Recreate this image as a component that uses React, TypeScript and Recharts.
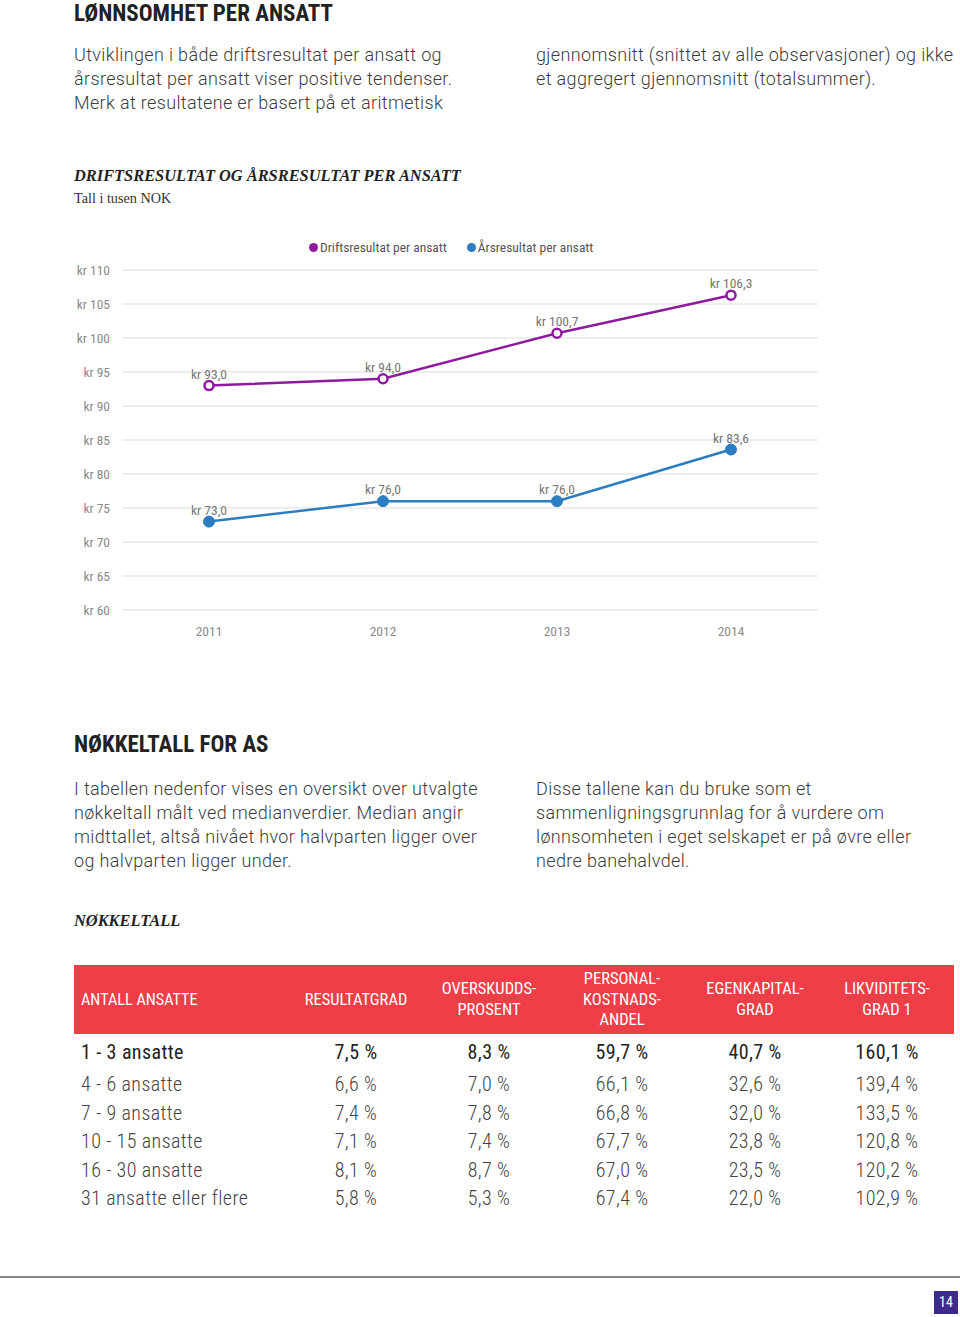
import { LineChart, Line, XAxis, YAxis, CartesianGrid, Legend, LabelList } from 'recharts'

// Driftsresultat og årsresultat per ansatt (tall i tusen NOK)
const years = ['2011', '2012', '2013', '2014']
const driftsresultat = [93.0, 94.0, 100.7, 106.3]
const arsresultat = [73.0, 76.0, 76.0, 83.6]
const yTicks = [60, 65, 70, 75, 80, 85, 90, 95, 100, 105, 110]

// Nøkkeltall
const sizeGroups = ['1 - 3 ansatte', '4 - 6 ansatte', '7 - 9 ansatte', '10 - 15 ansatte', '16 - 30 ansatte', '31 ansatte eller flere']
const resultatgrad = [7.5, 6.6, 7.4, 7.1, 8.1, 5.8]
const overskuddsprosent = [8.3, 7.0, 7.8, 7.4, 8.7, 5.3]
const personalkostnadsandel = [59.7, 66.1, 66.8, 67.7, 67.0, 67.4]
const egenkapitalgrad = [40.7, 32.6, 32.0, 23.8, 23.5, 22.0]
const likviditetsgrad = [160.1, 139.4, 133.5, 120.8, 120.2, 102.9]
const headers = ['RESULTATGRAD', 'OVERSKUDDS-\nPROSENT', 'PERSONAL-\nKOSTNADS-\nANDEL', 'EGENKAPITAL-\nGRAD', 'LIKVIDITETS-\nGRAD 1']

const PURPLE = '#8E1B9E'
const BLUE = '#2B7CC0'
const COND = "'Liberation Sans Narrow', 'Roboto Condensed', 'DejaVu Sans Condensed', 'DejaVu Sans', sans-serif"
const BODY = "Roboto, 'Noto Sans', sans-serif"
const SERIF = "'Liberation Serif', 'DejaVu Serif', serif"

const chartData = years.map((year, i) => ({
  year,
  drift: driftsresultat[i],
  ars: arsresultat[i],
}))

const kr = (v: number) => `kr ${v.toFixed(1).replace('.', ',')}`
const pct = (v: number) => `${v.toFixed(1).replace('.', ',')} %`

function ChartLegend() {
  const items = [
    { label: 'Driftsresultat per ansatt', color: PURPLE },
    { label: 'Årsresultat per ansatt', color: BLUE },
  ]
  return (
    <div style={{ display: 'flex', paddingLeft: 249, height: 32, alignItems: 'flex-start', fontFamily: COND, fontSize: 13.5, color: '#555' }}>
      {items.map((it) => (
        <div key={it.label} style={{ display: 'flex', alignItems: 'center', marginRight: 20, lineHeight: '18px' }}>
          <span style={{ width: 9, height: 9, borderRadius: '50%', background: it.color, marginRight: 2, display: 'inline-block' }} />
          {it.label}
        </div>
      ))}
    </div>
  )
}

export default function App() {
  const text = { position: 'absolute' as const, fontFamily: BODY, fontWeight: 300, fontSize: 18, letterSpacing: 0.35, lineHeight: '24px', color: '#3c3c3c' }
  const colCenters = [356, 489, 622, 755, 887]
  const columns = [resultatgrad, overskuddsprosent, personalkostnadsandel, egenkapitalgrad, likviditetsgrad]
  const rowCenter = (i: number) => (i === 0 ? 1052 : 1084 + (i - 1) * 28.6)

  return (
    <div style={{ position: 'absolute', left: 0, top: 0, width: 960, height: 1317, background: '#fff', overflow: 'hidden' }}>
      <div style={{ position: 'absolute', left: 74, top: 0, fontFamily: COND, fontWeight: 700, fontSize: 23, color: '#222' }}>
        LØNNSOMHET PER ANSATT
      </div>
      <div style={{ ...text, left: 74, top: 43 }}>
        Utviklingen i både driftsresultat per ansatt og<br />
        årsresultat per ansatt viser positive tendenser.<br />
        Merk at resultatene er basert på et aritmetisk
      </div>
      <div style={{ ...text, left: 536, top: 43 }}>
        gjennomsnitt (snittet av alle observasjoner) og ikke<br />
        et aggregert gjennomsnitt (totalsummer).
      </div>

      <div style={{ position: 'absolute', left: 74, top: 166, fontFamily: SERIF, fontWeight: 700, fontStyle: 'italic', fontSize: 16.4, color: '#222' }}>
        DRIFTSRESULTAT OG ÅRSRESULTAT PER ANSATT
      </div>
      <div style={{ position: 'absolute', left: 74, top: 190, fontFamily: SERIF, fontSize: 14.2, color: '#333' }}>
        Tall i tusen NOK
      </div>

      <div style={{ position: 'absolute', left: 60, top: 230 }}>
        <LineChart width={760} height={420} data={chartData} margin={{ top: 8, right: 2, left: 0, bottom: 10 }}>
          <CartesianGrid vertical={false} stroke="#e9e9e9" strokeWidth={1.5} />
          <XAxis
            dataKey="year"
            axisLine={false}
            tickLine={false}
            padding={{ left: 87, right: 87 }}
            tickMargin={10}
            height={30}
            tick={{ fill: '#8a8a8a', fontSize: 13.5, fontFamily: COND }}
          />
          <YAxis
            domain={[60, 110]}
            ticks={yTicks}
            axisLine={false}
            tickLine={false}
            width={62}
            tickMargin={6}
            tickFormatter={(v: number) => `kr ${v}`}
            tick={{ fill: '#8a8a8a', fontSize: 13.5, fontFamily: COND }}
          />
          <Legend verticalAlign="top" height={32} content={() => <ChartLegend />} />
          <Line
            dataKey="drift"
            name="Driftsresultat per ansatt"
            stroke={PURPLE}
            strokeWidth={2.5}
            dot={{ r: 4.5, stroke: PURPLE, strokeWidth: 2.5, fill: '#fff' }}
            isAnimationActive={false}
          >
            <LabelList dataKey="drift" position="top" offset={7} formatter={(v: number) => kr(v)} style={{ fill: '#777', fontSize: 13.5, fontFamily: COND }} />
          </Line>
          <Line
            dataKey="ars"
            name="Årsresultat per ansatt"
            stroke={BLUE}
            strokeWidth={2.5}
            dot={{ r: 5.5, stroke: BLUE, strokeWidth: 1, fill: BLUE }}
            isAnimationActive={false}
          >
            <LabelList dataKey="ars" position="top" offset={7} formatter={(v: number) => kr(v)} style={{ fill: '#777', fontSize: 13.5, fontFamily: COND }} />
          </Line>
        </LineChart>
      </div>

      <div style={{ position: 'absolute', left: 74, top: 731, fontFamily: COND, fontWeight: 700, fontSize: 23, color: '#222' }}>
        NØKKELTALL FOR AS
      </div>
      <div style={{ ...text, left: 74, top: 777 }}>
        I tabellen nedenfor vises en oversikt over utvalgte<br />
        nøkkeltall målt ved medianverdier. Median angir<br />
        midttallet, altså nivået hvor halvparten ligger over<br />
        og halvparten ligger under.
      </div>
      <div style={{ ...text, left: 536, top: 777 }}>
        Disse tallene kan du bruke som et<br />
        sammenligningsgrunnlag for å vurdere om<br />
        lønnsomheten i eget selskapet er på øvre eller<br />
        nedre banehalvdel.
      </div>

      <div style={{ position: 'absolute', left: 74, top: 911, fontFamily: SERIF, fontWeight: 700, fontStyle: 'italic', fontSize: 16.4, color: '#222' }}>
        NØKKELTALL
      </div>

      <div style={{ position: 'absolute', left: 74, top: 965, width: 880, height: 69, background: '#EE3E48' }} />
      <div style={{ position: 'absolute', left: 81, top: 990, fontFamily: COND, fontSize: 16.2, lineHeight: '20px', color: '#fff' }}>ANTALL ANSATTE</div>
      {headers.map((h, c) => {
        const lines = h.split('\n')
        return (
          <div key={h} style={{ position: 'absolute', left: colCenters[c] - 70, width: 140, top: 1000 - lines.length * 10.3, textAlign: 'center', fontFamily: COND, fontSize: 16.5, lineHeight: '20.5px', color: '#fff', whiteSpace: 'pre' }}>
            {h}
          </div>
        )
      })}

      {sizeGroups.map((g, r) => (
        <div key={g}>
          <div style={{ position: 'absolute', left: 81, top: rowCenter(r) - 12, lineHeight: '24px', fontFamily: COND, fontSize: 20, letterSpacing: 0.4, color: r === 0 ? '#222' : '#444', fontWeight: r === 0 ? 400 : 300 }}>{g}</div>
          {columns.map((col, c) => (
            <div key={c} style={{ position: 'absolute', left: colCenters[c] - 60, width: 120, top: rowCenter(r) - 12, lineHeight: '24px', textAlign: 'center', fontFamily: COND, fontSize: 20, letterSpacing: 0.4, color: r === 0 ? '#222' : '#444', fontWeight: r === 0 ? 400 : 300 }}>
              {pct(col[r])}
            </div>
          ))}
        </div>
      ))}

      <div style={{ position: 'absolute', left: 0, top: 1276, width: 960, height: 2, background: '#8a8a8a' }} />
      <div style={{ position: 'absolute', left: 934, top: 1291, width: 24, height: 23, background: '#3D2A8A', color: '#fff', fontFamily: COND, fontSize: 14, lineHeight: '23px', textAlign: 'center' }}>14</div>
    </div>
  )
}
